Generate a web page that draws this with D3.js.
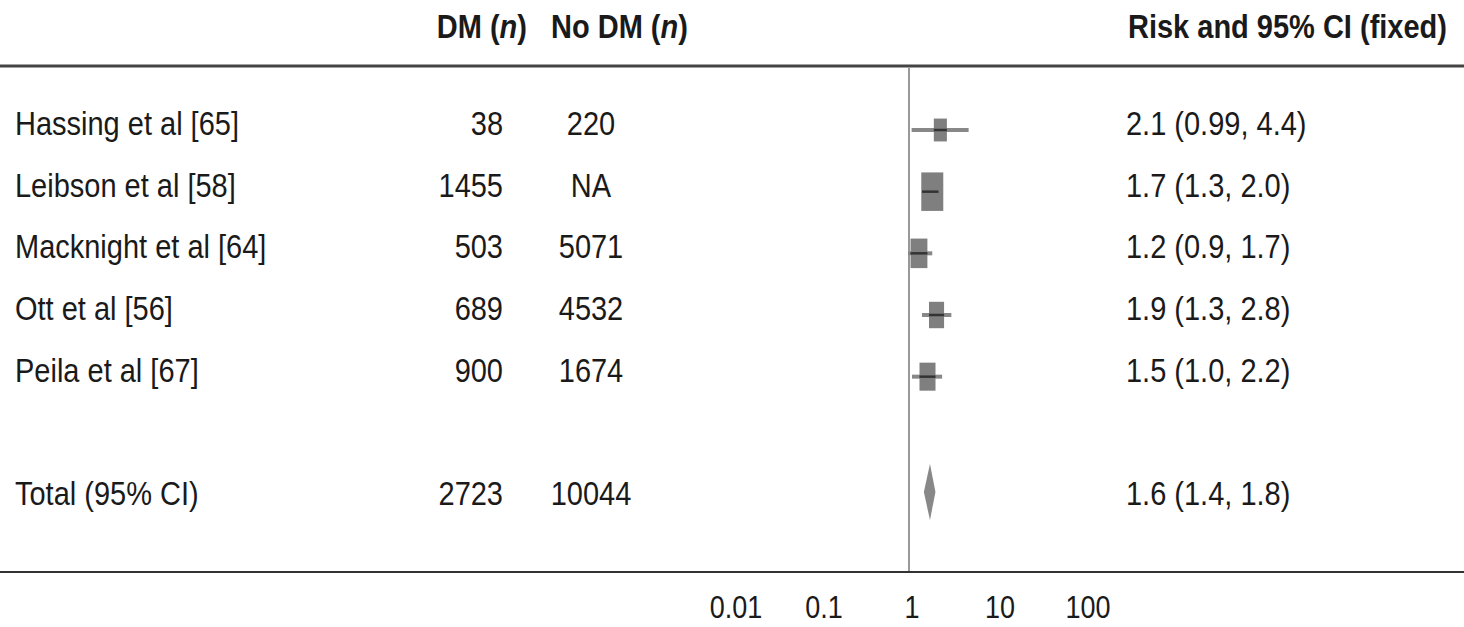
<!DOCTYPE html>
<html>
<head>
<meta charset="utf-8">
<script src="https://cdn.jsdelivr.net/npm/d3@7"></script>
<style>
  body { margin: 0; background: #fff; }
  text { font-family: "Liberation Sans", Arial, sans-serif; fill: #1a1a1a; }
</style>
</head>
<body>
<div id="chart"></div>
<script>
// study rows
var studies = ["Hassing et al [65]", "Leibson et al [58]", "Macknight et al [64]", "Ott et al [56]", "Peila et al [67]"];
var dmN = ["38", "1455", "503", "689", "900"];
var noDmN = ["220", "NA", "5071", "4532", "1674"];
var risk = [2.1, 1.7, 1.2, 1.9, 1.5];
var lower = [0.99, 1.3, 0.9, 1.3, 1.0];
var upper = [4.4, 2.0, 1.7, 2.8, 2.2];
var weights = [12, 34, 20, 16, 18];
var ciText = ["2.1 (0.99, 4.4)", "1.7 (1.3, 2.0)", "1.2 (0.9, 1.7)", "1.9 (1.3, 2.8)", "1.5 (1.0, 2.2)"];

// pooled
var totalLabel = "Total (95% CI)";
var totalDm = "2723";
var totalNoDm = "10044";
var totalRisk = [1.6, 1.4, 1.8];
var totalText = "1.6 (1.4, 1.8)";

var ticks = [0.01, 0.1, 1, 10, 100];

var W = 1464, H = 627;
var stretch = 1.17;

var svg = d3.select("#chart").append("svg")
    .attr("width", W)
    .attr("height", H);

var x = d3.scaleLog().domain([0.01, 100]).range([736, 1088]);
var y = d3.scaleLinear().domain([0, 6]).range([135, 505]);
var box = d3.scaleSqrt().domain([0, 34]).range([0, 22]);

function txt(str, tx, ty, anchor, size, weight) {
    return svg.append("text")
        .attr("transform", "translate(" + tx + "," + ty + ") scale(1," + stretch + ")")
        .attr("text-anchor", anchor)
        .style("font-size", size + "px")
        .style("font-weight", weight || "normal")
        .text(str);
}

// headers
var h1 = txt("DM (", 527, 38, "end", 29, "bold");
h1.append("tspan").style("font-style", "italic").text("n");
h1.append("tspan").text(")");
var h2 = txt("No DM (", 551, 38, "start", 29, "bold");
h2.append("tspan").style("font-style", "italic").text("n");
h2.append("tspan").text(")");
txt("Risk and 95% CI (fixed)", 1128, 38, "start", 29, "bold");

// rules
svg.append("line").attr("x1", 0).attr("x2", W).attr("y1", 66).attr("y2", 66)
    .attr("stroke", "#444").attr("stroke-width", 3);
svg.append("line").attr("x1", 0).attr("x2", W).attr("y1", 572).attr("y2", 572)
    .attr("stroke", "#333").attr("stroke-width", 2);

// null line
svg.append("line").attr("x1", x(1) - 3).attr("x2", x(1) - 3).attr("y1", 68).attr("y2", 571)
    .attr("stroke", "#999").attr("stroke-width", 2);

// text columns
studies.forEach(function(s, i) {
    txt(s, 15, y(i), "start", 29);
    txt(dmN[i], 503, y(i), "end", 29);
    txt(noDmN[i], 591, y(i), "middle", 29);
    txt(ciText[i], 1126, y(i), "start", 29);
});
txt(totalLabel, 15, y(6), "start", 29);
txt(totalDm, 503, y(6), "end", 29);
txt(totalNoDm, 591, y(6), "middle", 29);
txt(totalText, 1126, y(6), "start", 29);

// boxes and CIs
var g = svg.append("g");
studies.forEach(function(s, i) {
    var cy = y(i) - 5;
    var w = box(weights[i]);
    var h = w * 1.75;
    g.append("line")
        .attr("x1", x(lower[i])).attr("x2", x(upper[i]))
        .attr("y1", cy).attr("y2", cy)
        .attr("stroke", "#888").attr("stroke-width", 4);
    g.append("rect")
        .attr("x", x(risk[i]) - w / 2).attr("y", cy - h / 2)
        .attr("width", w).attr("height", h)
        .attr("fill", "#7f7f7f");
    g.append("line")
        .attr("x1", Math.max(x(lower[i]), x(risk[i]) - w / 2)).attr("x2", Math.min(x(upper[i]), x(risk[i]) + w / 2))
        .attr("y1", cy).attr("y2", cy)
        .attr("stroke", "#333").attr("stroke-width", 2.5);
});

// diamond
var dy = y(6) - 13;
g.append("path")
    .attr("d", "M" + (x(totalRisk[1]) - 1) + "," + dy +
               "L" + x(totalRisk[0]) + "," + (dy - 28) +
               "L" + (x(totalRisk[2]) + 1) + "," + dy +
               "L" + x(totalRisk[0]) + "," + (dy + 28) + "Z")
    .attr("fill", "#888");

// axis labels
ticks.forEach(function(t) {
    txt(d3.format("~g")(t), x(t), 618, "middle", 27);
});
</script>
</body>
</html>
